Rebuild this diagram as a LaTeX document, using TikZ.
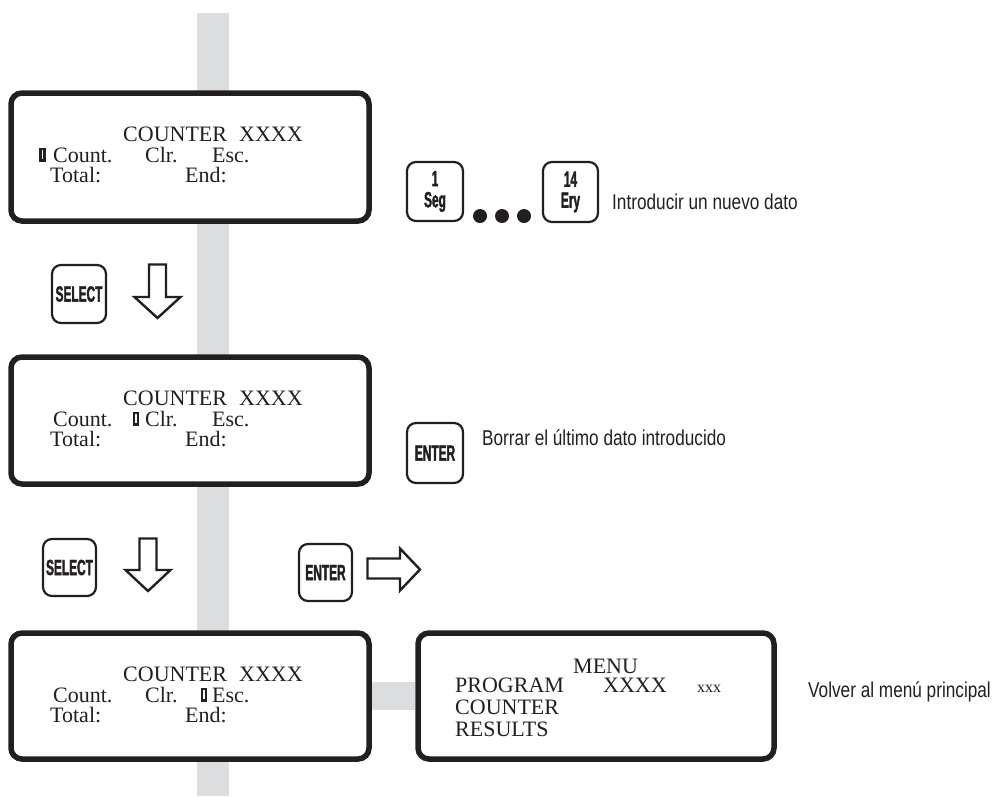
\documentclass[tikz,border=0pt]{standalone}
\usepackage{fontspec}
\setmainfont{Liberation Serif}
\newfontfamily\labelfont[FakeStretch=0.8]{Liberation Sans}
\newfontfamily\keyfont[FakeStretch=0.54,FakeBold=1.6]{Liberation Sans Bold}
\usetikzlibrary{calc,backgrounds}
\definecolor{ink}{RGB}{35,31,32}
\definecolor{barc}{RGB}{220,221,223}
\tikzset{lcdcursor/.pic={\fill[ink] (-3.2,-7) rectangle (3.2,7); \fill[white] (-0.7,-4.4) rectangle (0.7,4.4);}}
\begin{document}
\begin{tikzpicture}[x=1pt,y=-1pt,
 lcd/.style={draw=ink, line width=5.5pt, rounded corners=11pt, fill=white, inner sep=0pt},
 key/.style={draw=ink, line width=2.2pt, rounded corners=9pt, fill=white, inner sep=0pt, font=\keyfont\fontsize{22}{21}\selectfont, text=ink, align=center},
 lcdtxt/.style={anchor=base west, inner sep=0pt, text depth=0pt, text height=14pt, font=\fontsize{22}{22}\selectfont, text=ink},
 smalltxt/.style={anchor=base west, inner sep=0pt, font=\fontsize{16}{16}\selectfont, text=ink},
 lbl/.style={anchor=base west, inner sep=0pt, font=\labelfont\fontsize{21.5}{21.5}\selectfont, text=ink},
 hollow/.style={draw=ink, line width=2.4pt, fill=white, line join=miter},
 dotc/.style={fill=ink}]
\useasboundingbox (0,0) rectangle (998,796);

% LCD boxes
\node[lcd, minimum width=358pt, minimum height=128pt] (box1) at (190,157) {};
\node[lcd, minimum width=358pt, minimum height=127pt] (box2) at (190,420.5) {};
\node[lcd, minimum width=358pt, minimum height=126pt] (box3) at (190,696) {};
\node[lcd, minimum width=356pt, minimum height=126pt] (menu) at (596,696) {};

% gray bars behind
\begin{scope}[on background layer]
\coordinate (barTop) at (197,13);
\coordinate (barBot) at (229,796);
\fill[barc] (barTop) rectangle (barBot);
\fill[barc] ($(box3.east)+(0,-14)$) rectangle ($(menu.west)+(0,14)$);
\end{scope}

% box 1 text
\node[lcdtxt] (b1title) at (123,141) {COUNTER\hspace{0.55em}XXXX};
\node[lcdtxt] (b1count) at (53,162) {Count.};
\node[lcdtxt] (b1clr) at (145,162) {Clr.};
\node[lcdtxt] (b1esc) at (212,162) {Esc.};
\node[lcdtxt] (b1total) at (50,182) {Total:};
\node[lcdtxt] (b1end) at (185,182) {End:};
\pic at (42.5,154.5) {lcdcursor};

% box 2 text
\node[lcdtxt] (b2title) at (123,405) {COUNTER\hspace{0.55em}XXXX};
\node[lcdtxt] (b2count) at (53,426) {Count.};
\node[lcdtxt] (b2clr) at (145,426) {Clr.};
\node[lcdtxt] (b2esc) at (212,426) {Esc.};
\node[lcdtxt] (b2total) at (50,446) {Total:};
\node[lcdtxt] (b2end) at (185,446) {End:};
\pic at (136,418.5) {lcdcursor};

% box 3 text
\node[lcdtxt] (b3title) at (123,681) {COUNTER\hspace{0.55em}XXXX};
\node[lcdtxt] (b3count) at (53,702) {Count.};
\node[lcdtxt] (b3clr) at (145,702) {Clr.};
\node[lcdtxt] (b3esc) at (212,702) {Esc.};
\node[lcdtxt] (b3total) at (50,722) {Total:};
\node[lcdtxt] (b3end) at (185,722) {End:};
\pic at (204,694.5) {lcdcursor};

% menu text
\node[lcdtxt] (mtitle) at (573,673) {MENU};
\node[lcdtxt] (mprog) at (455,692) {PROGRAM};
\node[lcdtxt] (mxxxx) at (603,692) {XXXX};
\node[smalltxt] (mxxx) at (697,692) {xxx};
\node[lcdtxt] (mcount) at (455,714) {COUNTER};
\node[lcdtxt] (mres) at (455,736) {RESULTS};

% keys
\node[key, minimum width=56pt, minimum height=59pt] (kseg) at (435,191.5) {1\\Seg};
\node[key, minimum width=55pt, minimum height=60pt] (kery) at (570.5,192) {14\\Ery};
\node[key, minimum width=54pt, minimum height=58pt] (sel1) at (79,294) {SELECT};
\node[key, minimum width=56pt, minimum height=60pt] (ent1) at (435,453) {ENTER};
\node[key, minimum width=53pt, minimum height=57pt] (sel2) at (69.5,567.5) {SELECT};
\node[key, minimum width=53pt, minimum height=57pt] (ent2) at (325.5,572.5) {ENTER};

% dots
\fill[dotc] (480,216) circle (7);
\fill[dotc] (502,216) circle (7);
\fill[dotc] (524,216) circle (7);

% hollow arrows
\draw[hollow] (149,264.5) -- (166,264.5) -- (166,297) -- (180.5,297) -- (157.5,318) -- (134.5,297) -- (149,297) -- cycle;
\draw[hollow] (139.5,538.5) -- (156.5,538.5) -- (156.5,570) -- (170.5,570) -- (148,591) -- (125.5,570) -- (139.5,570) -- cycle;
\draw[hollow] (367.5,558.5) -- (400,558.5) -- (400,548.5) -- (420,569.5) -- (400,590.5) -- (400,578.5) -- (367.5,578.5) -- cycle;

% labels
\node[lbl] (lintro) at (612,209.5) {Introducir un nuevo dato};
\node[lbl] (lborrar) at (482,445.5) {Borrar el último dato introducido};
\node[lbl] (lvolver) at (808,697.5) {Volver al menú principal};
\end{tikzpicture}
\end{document}
